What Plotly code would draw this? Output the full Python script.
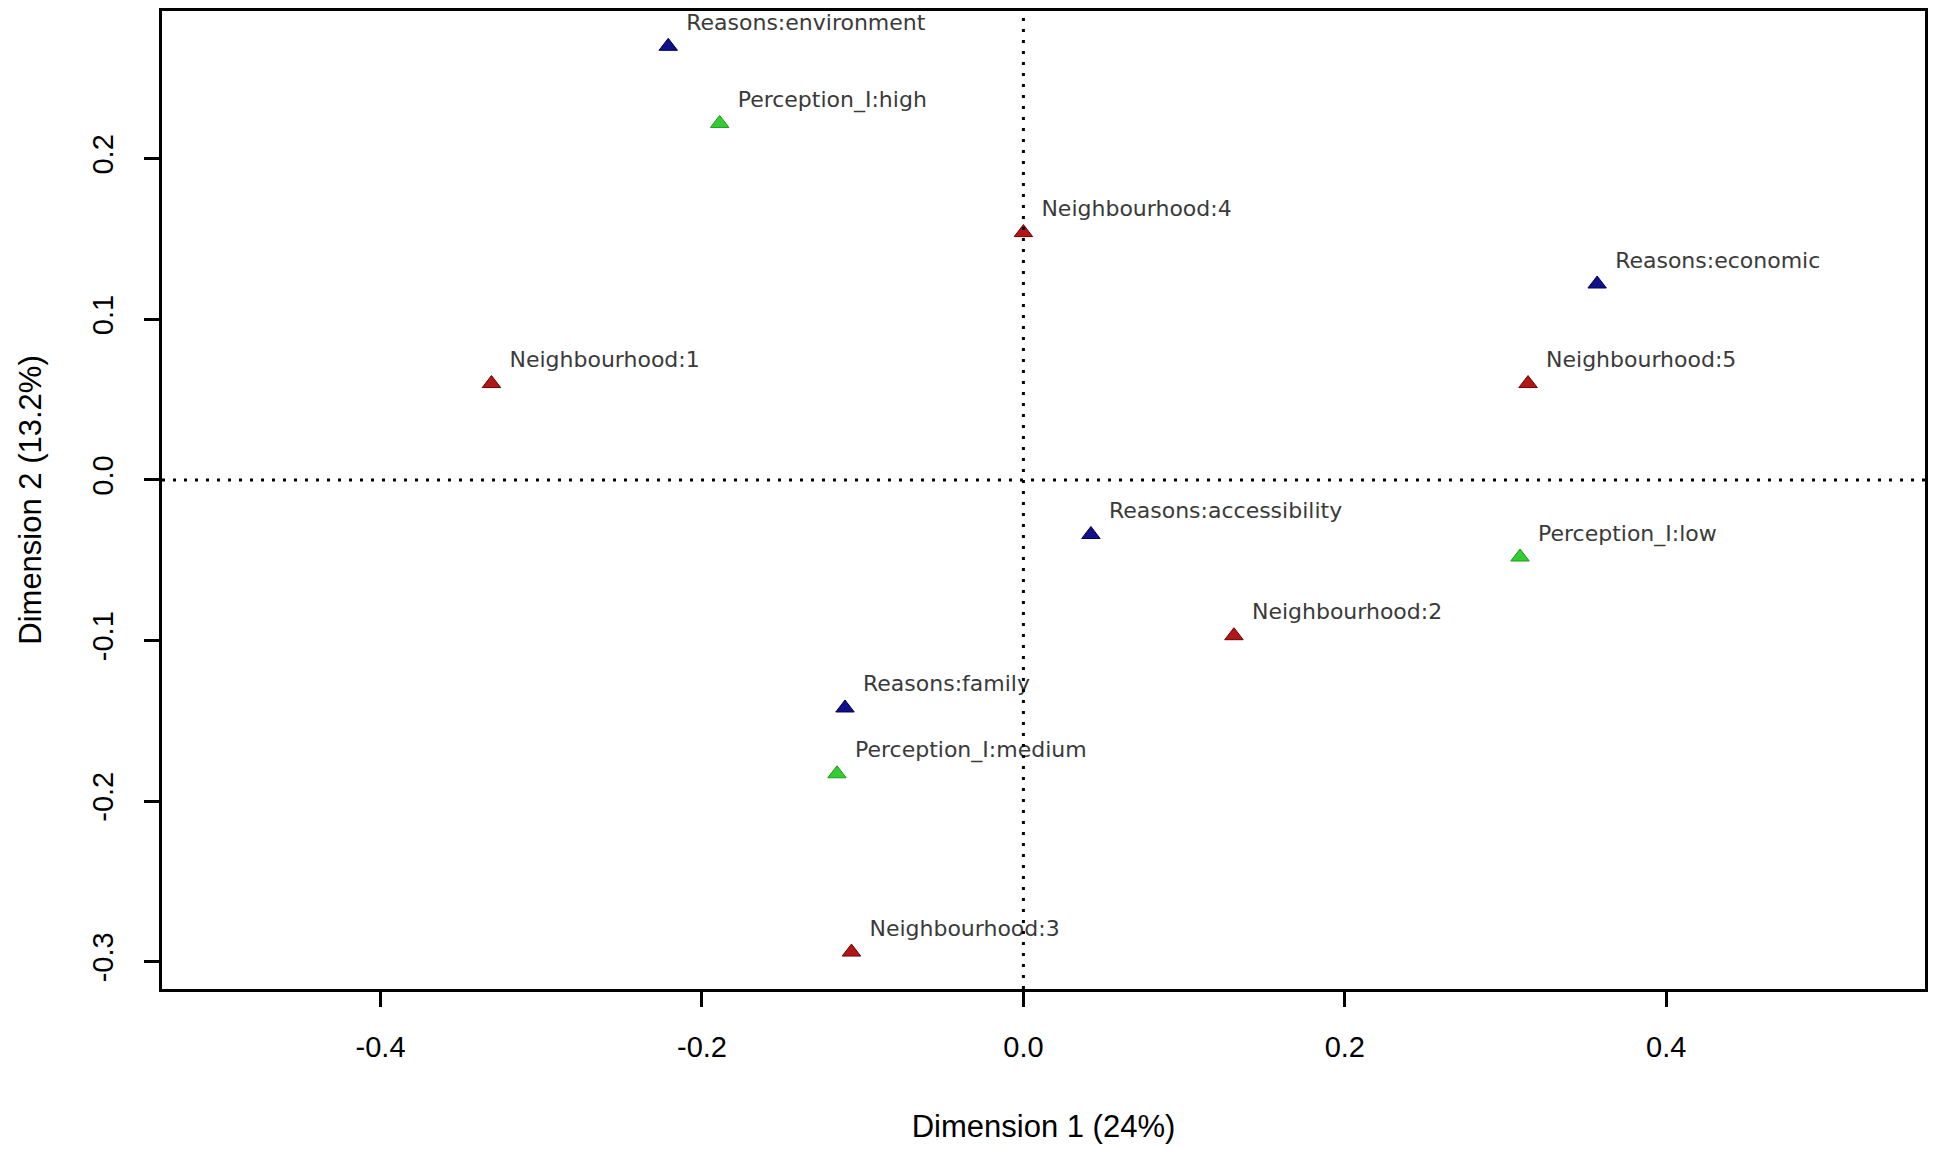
import plotly.graph_objects as go

# coordinates
labels = ["Reasons:environment", "Reasons:economic", "Reasons:accessibility", "Reasons:family",
          "Perception_I:high", "Perception_I:low", "Perception_I:medium",
          "Neighbourhood:1", "Neighbourhood:2", "Neighbourhood:3", "Neighbourhood:4", "Neighbourhood:5"]
dim1 = [-0.221, 0.357, 0.042, -0.111,
        -0.189, 0.309, -0.116,
        -0.331, 0.131, -0.107, 0.0, 0.314]
dim2 = [0.270, 0.122, -0.034, -0.142,
        0.222, -0.048, -0.183,
        0.060, -0.097, -0.294, 0.154, 0.060]
groups = ["Reasons"] * 4 + ["Perception_I"] * 3 + ["Neighbourhood"] * 5
group_colors = {"Reasons": "#10108a", "Perception_I": "#33cc33", "Neighbourhood": "#b01818"}
edge_colors = {"Reasons": "#000050", "Perception_I": "#1a9a1a", "Neighbourhood": "#700000"}

x_ticks = [-0.4, -0.2, 0.0, 0.2, 0.4]
x_ticklabels = ["-0.4", "-0.2", "0.0", "0.2", "0.4"]
y_ticks = [-0.3, -0.2, -0.1, 0.0, 0.1, 0.2]
y_ticklabels = ["-0.3", "-0.2", "-0.1", "0.0", "0.1", "0.2"]

fig = go.Figure()
for g in group_colors:
    idx = [i for i, gg in enumerate(groups) if gg == g]
    fig.add_trace(go.Scatter(
        x=[dim1[i] for i in idx], y=[dim2[i] for i in idx],
        text=[" " + labels[i] for i in idx],
        mode='markers+text',
        textposition='top right',
        textfont=dict(family='DejaVu Sans', size=22, color='#3a3a3a'),
        marker=dict(symbol='triangle-up', size=16, color=group_colors[g],
                    line=dict(color=edge_colors[g], width=1)),
        name=g,
        showlegend=False
    ))

# dotted reference lines through the origin
fig.add_hline(y=0, line=dict(color='black', width=3, dash='3px,8px'))
fig.add_vline(x=0, line=dict(color='black', width=3, dash='3px,8px'))

axis_common = dict(showgrid=False, zeroline=False, showline=True, linecolor='black', linewidth=2.5,
                   mirror=True, ticks='outside', ticklen=15, tickwidth=2.5, tickcolor='black',
                   tickfont=dict(family='Liberation Sans', size=29, color='black'))
fig.update_xaxes(range=[-0.536, 0.561], tickvals=x_ticks, ticktext=x_ticklabels,
                 ticklabelstandoff=15,
                 title=dict(text='Dimension 1 (24%)', standoff=54,
                            font=dict(family='Liberation Sans', size=31, color='black')),
                 **axis_common)
fig.update_yaxes(range=[-0.317, 0.292], tickvals=y_ticks, ticktext=y_ticklabels, tickangle=-90,
                 ticklabelstandoff=20,
                 title=dict(text='Dimension 2 (13.2%)', standoff=36,
                            font=dict(family='Liberation Sans', size=31, color='black')),
                 **axis_common)
fig.update_layout(width=1950, height=1156, plot_bgcolor='white', paper_bgcolor='white',
                  margin=dict(l=154, r=33, t=0, b=175))
fig.write_html("out.html")
